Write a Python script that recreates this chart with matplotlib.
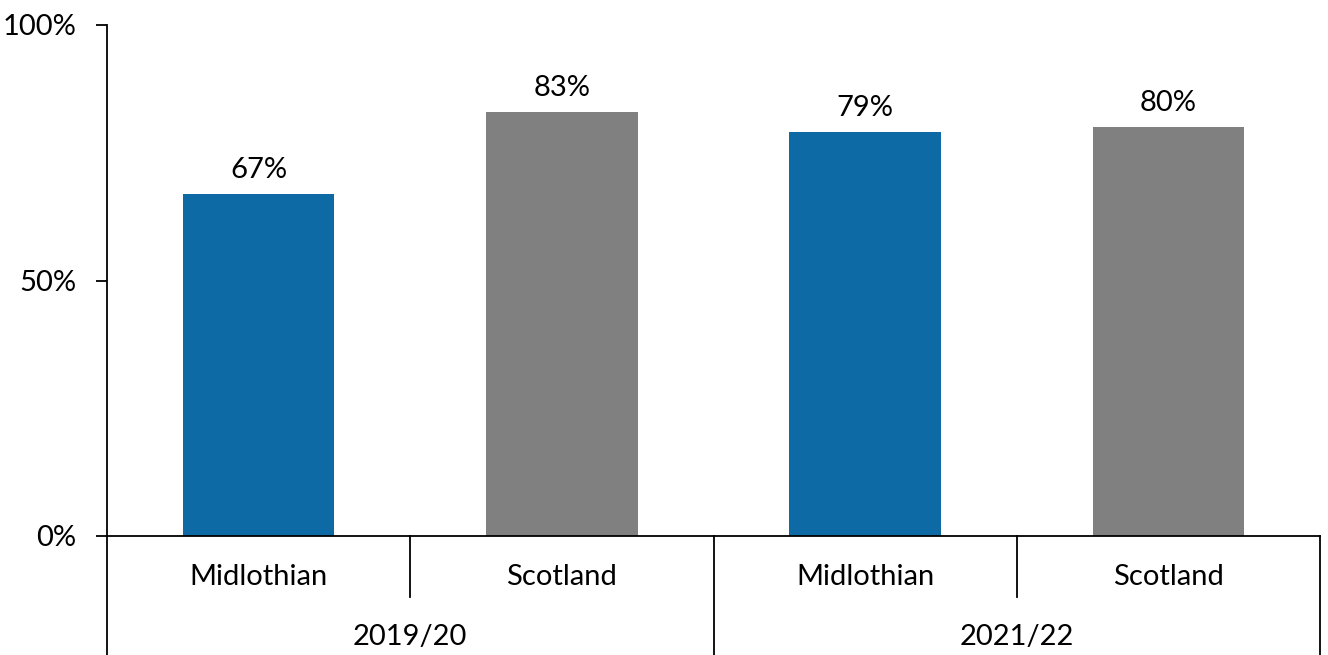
import matplotlib
matplotlib.use("Agg")
import matplotlib.pyplot as plt
from matplotlib.lines import Line2D

plt.rcParams['font.family'] = ['Lato', 'DejaVu Sans']

categories = ["Midlothian", "Scotland", "Midlothian", "Scotland"]
groups = ["2019/20", "2021/22"]
values = [67, 83, 79, 80]
colors = ["#0E6AA4", "#808080", "#0E6AA4", "#808080"]
yticks = [0, 50, 100]
ytick_labels = ["0%", "50%", "100%"]

FS = 21

fig = plt.figure(figsize=(13.28, 6.55), dpi=100)
ax = fig.add_axes([107 / 1328, 1 - 536 / 655, (1320 - 107) / 1328, (536 - 25) / 655])

x = [i + 0.5 for i in range(len(values))]
ax.bar(x, values, width=0.5, color=colors, zorder=2)
for xi, v in zip(x, values):
    ax.annotate(f"{v}%", (xi, v), xytext=(0, 8), textcoords="offset points",
                ha="center", va="bottom", fontsize=FS, color="black")

ax.set_xlim(0, len(values))
ax.set_ylim(0, 100)
ax.set_yticks(yticks)
ax.set_yticklabels(ytick_labels, fontsize=FS)
ax.tick_params(axis="y", length=8, width=1.3, pad=14, color="black")
ax.set_xticks([])
for s in ["top", "right"]:
    ax.spines[s].set_visible(False)
ax.spines["left"].set_linewidth(1.3)
ax.spines["bottom"].set_linewidth(1.3)

trans = ax.get_xaxis_transform()
# Category labels and inner separators
for xi, lab in zip(x, categories):
    ax.text(xi, -(577 - 536) / 511, lab, transform=trans, ha="center", va="center", fontsize=FS)
inner_depth = -(597 - 536) / (536 - 25)
outer_depth = -(655 - 536) / (536 - 25)
for xs in [1, 3]:
    ax.add_line(Line2D([xs, xs], [0, inner_depth], transform=trans, color="black",
                       lw=1.3, clip_on=False))
# Group labels and outer separators
for gi, g in enumerate(groups):
    ax.text(2 * gi + 1, -(637 - 536) / 511, g, transform=trans, ha="center", va="center", fontsize=FS)
for xs in [0, 2, 4]:
    ax.add_line(Line2D([xs, xs], [0, outer_depth - 0.02], transform=trans, color="black",
                       lw=1.3, clip_on=False))

fig.savefig("out.png", dpi=100, facecolor="white")
